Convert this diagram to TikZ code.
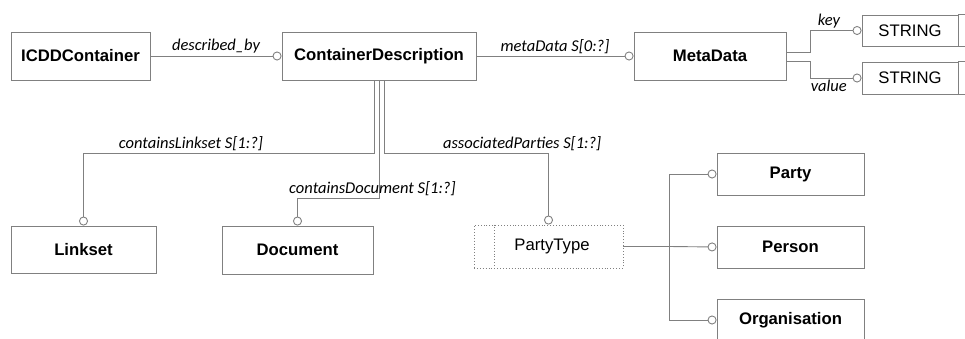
\documentclass[tikz,border=0pt]{standalone}
\usepackage{fontspec}
\setmainfont{Liberation Sans}
\newfontfamily\boxfont{Liberation Sans}
\newfontfamily\lblfont{Carlito}
\usetikzlibrary{arrows.meta}
\definecolor{linegray}{HTML}{808080}
\tikzset{
  cls/.style={draw=linegray, line width=0.9pt, rectangle, inner sep=0pt, font=\boxfont\fontsize{16.7}{19}\selectfont\bfseries},
  typ/.style={cls, font=\boxfont\fontsize{16.7}{19}\selectfont\mdseries},
  lbl/.style={font=\lblfont\fontsize{16.5}{19}\selectfont\itshape, inner sep=2pt},
  conn/.style={draw=linegray, line width=0.9pt, -{Circle[length=9pt,width=9pt,fill=white]}},
  plain/.style={draw=linegray, line width=0.9pt}
}
\begin{document}
\begin{tikzpicture}[x=1pt,y=-1pt]
\useasboundingbox (0,0) rectangle (965,338);
\clip (0,0) rectangle (965,338);
\node[cls, minimum width=139pt, minimum height=48pt] (icdd) at (80.5,56) {ICDDContainer};
\node[cls, minimum width=194pt, minimum height=48pt] (cdesc) at (379,56) {ContainerDescription};
\node[cls, minimum width=152pt, minimum height=48pt] (meta) at (710,56) {MetaData};
\node[typ, minimum width=96pt, minimum height=31pt] (str1) at (910,30.5) {STRING};
\node[typ, minimum width=96pt, minimum height=32pt] (str2) at (910,78) {STRING};
\node[cls, minimum width=145pt, minimum height=47pt] (linkset) at (83.5,249.5) {Linkset};
\node[cls, minimum width=151pt, minimum height=48pt] (document) at (297.5,250) {Document};
\node[typ, dotted, minimum width=149pt, minimum height=43pt] (partytype) at (548.5,246.5) {\hspace*{7pt}PartyType};
\node[cls, minimum width=147pt, minimum height=42pt] (party) at (790.5,174) {Party};
\node[cls, minimum width=147pt, minimum height=42pt] (person) at (790.5,247) {Person};
\node[cls, minimum width=147pt, minimum height=42pt] (organisation) at (790.5,320) {Organisation};
% open right ends of the STRING boxes and the PartyType divider
\draw[plain] (str1.north east) -- ++(40,0) (str1.south east) -- ++(40,0);
\draw[plain] (str2.north east) -- ++(40,0) (str2.south east) -- ++(40,0);
\draw[plain, dotted] ([xshift=21pt]partytype.north west) -- ([xshift=21pt]partytype.south west);

\draw[conn] (icdd.east) -- node[lbl, above] {described\_by} (cdesc.west);
\draw[conn] (cdesc.east) -- node[lbl, above] {metaData S[0:?]} (meta.west);
\draw[conn] ([yshift=4pt]meta.east) -- ++(24,0) |- node[lbl, above, pos=0.68] {key} (str1.west);
\draw[conn] ([yshift=-5pt]meta.east) -- ++(24,0) |- node[lbl, below, pos=0.68] {value} (str2.west);

\draw[conn] ([xshift=-5pt]cdesc.south) -- ++(0,73) -| node[lbl, above, pos=0.315] {containsLinkset S[1:?]} (linkset.north);
\draw[conn] (cdesc.south) -- ++(0,118) -| node[lbl, above, pos=0.04] {containsDocument S[1:?]} (document.north);
\draw[conn] ([xshift=5pt]cdesc.south) -- ++(0,73) -| node[lbl, above, pos=0.42] {associatedParties S[1:?]} (partytype.north);

\draw[plain, line width=1.3pt] (partytype.east) -- ++(46,0) coordinate (fork);
\draw[conn] (fork) |- (party.west);
\draw[conn] (fork) -- (person.west);
\draw[conn] (fork) |- (organisation.west);
\end{tikzpicture}
\end{document}
